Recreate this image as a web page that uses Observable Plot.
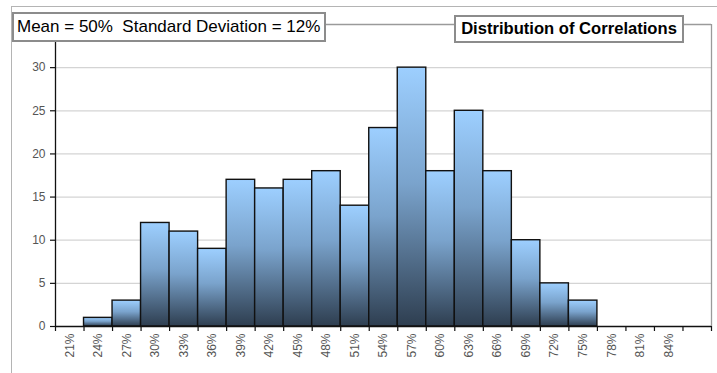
<!DOCTYPE html>
<html>
<head>
<meta charset="utf-8">
<script src="https://cdn.jsdelivr.net/npm/d3@7"></script>
<script src="https://cdn.jsdelivr.net/npm/@observablehq/plot@0.6"></script>
<style>
  html, body { margin: 0; padding: 0; background: #fff; }
  #wrap { position: relative; width: 717px; height: 373px; overflow: hidden; font-family: "Liberation Sans", Arial, sans-serif; }
  #wrap svg { position: absolute; left: 0; top: 0; }
  .frame { position: absolute; left: 11px; top: 6px; width: 720px; height: 380px; border-left: 1px solid #b4b4b4; border-top: 1px solid #b4b4b4; box-sizing: border-box; }
  .box { position: absolute; background: #fff; border: 2px solid #8c8c8c; box-sizing: border-box; white-space: nowrap; color: #000; }
  #stats { left: 12px; top: 12px; width: 314px; height: 30px; font-size: 17px; line-height: 26px; padding-left: 3px; }
  #title { left: 454px; top: 15px; width: 230px; height: 28px; font-size: 16.6px; font-weight: bold; line-height: 24px; text-align: center; }
</style>
</head>
<body>
<div id="wrap">
  <div class="frame"></div>
</div>
<script>
// Bin centres (%), bin counts and their axis labels
const binCenters = [21, 24, 27, 30, 33, 36, 39, 42, 45, 48, 51, 54, 57, 60, 63, 66, 69, 72, 75, 78, 81, 84];
const counts     = [0, 1, 3, 12, 11, 9, 17, 16, 17, 18, 14, 23, 30, 18, 25, 18, 10, 5, 3, 0, 0, 0];
const binLabels  = ["21%", "24%", "27%", "30%", "33%", "36%", "39%", "42%", "45%", "48%", "51%",
                    "54%", "57%", "60%", "63%", "66%", "69%", "72%", "75%", "78%", "81%", "84%"];
const yTicks = [0, 5, 10, 15, 20, 25, 30];
const yGrid  = [5, 10, 15, 20, 25, 30];
const binWidth = 3;
const statsText = "Mean = 50%\u00a0\u00a0Standard Deviation = 12%";
const titleText = "Distribution of Correlations";

const bins = binCenters.map((c, i) => ({x1: c - binWidth / 2, x2: c + binWidth / 2, count: counts[i], label: binLabels[i]}));
// one extra empty slot after the last labelled bin
const xMin = binCenters[0] - binWidth / 2;
const xMax = binCenters[binCenters.length - 1] + binWidth * 1.5;
const edges = d3.range(xMin, xMax + 0.01, binWidth);

const chart = Plot.plot({
  width: 717,
  height: 373,
  marginLeft: 55,
  marginRight: 6,
  marginTop: 24,
  marginBottom: 47,
  style: {fontFamily: "'Liberation Sans', Arial, sans-serif", fontSize: "12px", background: "transparent", overflow: "visible"},
  x: {domain: [xMin, xMax], axis: null},
  y: {domain: [0, 35], axis: null},
  marks: [
    // horizontal gridlines
    Plot.ruleY(yGrid, {x1: xMin, x2: xMax, stroke: "#d4d4d4", strokeWidth: 1.3}),
    // plot-area border (top and right)
    Plot.ruleY([35], {x1: xMin, x2: xMax, stroke: "#9a9a9a", strokeWidth: 1.3}),
    Plot.ruleX([xMax], {y1: 0, y2: 35, stroke: "#9a9a9a", strokeWidth: 1.3}),
    // histogram bars
    Plot.rectY(bins.filter(d => d.count > 0), {x1: "x1", x2: "x2", y1: 0, y2: "count", fill: "url(#barGradient)", stroke: "#111", strokeWidth: 1.4}),
    // axis lines
    Plot.ruleX([xMin], {y1: 0, y2: 35, stroke: "#111", strokeWidth: 1.3}),
    Plot.ruleY([0], {x1: xMin, x2: xMax, stroke: "#111", strokeWidth: 1.3}),
    // x ticks at bin edges
    Plot.ruleX(edges, {y1: 0, y2: 0, insetBottom: -5, stroke: "#111", strokeWidth: 1.2}),
    // y ticks
    Plot.ruleY(yTicks, {x1: xMin, x2: xMin, insetLeft: -5, stroke: "#111", strokeWidth: 1.2}),
    // y tick labels
    Plot.text(yTicks, {x: xMin, y: d => d, text: d => String(d), textAnchor: "end", dx: -10, fill: "#555"}),
    // x labels, rotated
    Plot.text(bins, {x: d => (d.x1 + d.x2) / 2, y: 0, text: "label", rotate: -90, textAnchor: "end", dy: 7, fill: "#555"})
  ]
});

// vertical gradient used by every bar (light blue at top, dark slate at bottom)
const defs = d3.select(chart).insert("defs", ":first-child");
const grad = defs.append("linearGradient").attr("id", "barGradient").attr("x1", 0).attr("y1", 0).attr("x2", 0).attr("y2", 1);
grad.append("stop").attr("offset", "0%").attr("stop-color", "#9dcfff");
grad.append("stop").attr("offset", "45%").attr("stop-color", "#7aa3cc");
grad.append("stop").attr("offset", "100%").attr("stop-color", "#2e3e50");

const wrap = document.getElementById("wrap");
wrap.appendChild(chart);

const stats = document.createElement("div");
stats.className = "box";
stats.id = "stats";
stats.textContent = statsText;
wrap.appendChild(stats);

const title = document.createElement("div");
title.className = "box";
title.id = "title";
title.textContent = titleText;
wrap.appendChild(title);
</script>
</body>
</html>
